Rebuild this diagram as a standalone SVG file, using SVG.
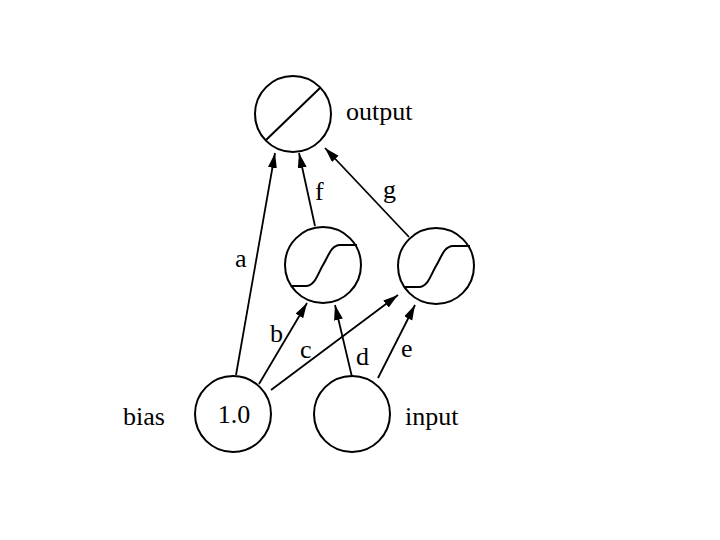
<svg xmlns="http://www.w3.org/2000/svg" width="720" height="540" viewBox="0 0 720 540">
<style>
.n{fill:none;stroke:#000;stroke-width:2}
.e{fill:none;stroke:#000;stroke-width:1.8;marker-end:url(#ah)}
text{font-family:"Liberation Serif","Times New Roman",serif;font-size:26px;fill:#000}
</style>
<defs>
<marker id="ah" markerUnits="userSpaceOnUse" markerWidth="16" markerHeight="10" refX="15" refY="4.5" orient="auto">
<path d="M0,0 L15,4.5 L0,9 z" fill="#000"/>
</marker>
<path id="sig" d="M-31,21 H-17 C-8,21 -5,8 0,0 S8,-20 17,-20 H34"/>
</defs>
<rect width="720" height="540" fill="#fff"/>
<g id="connectors">
<line class="e" x1="236" y1="375" x2="275" y2="153"/>
<line class="e" x1="315" y1="226" x2="299" y2="153"/>
<line class="e" x1="409" y1="237" x2="325" y2="148"/>
<line class="e" x1="259" y1="384" x2="307" y2="303"/>
<line class="e" x1="271" y1="390" x2="398" y2="295"/>
<line class="e" x1="352" y1="377" x2="335" y2="305"/>
<line class="e" x1="378" y1="378" x2="415" y2="305"/>
</g>
<g id="labels">
<text x="235" y="267">a</text>
<text x="270" y="342">b</text>
<text x="300" y="358">c</text>
<text x="356" y="365">d</text>
<text x="401" y="357">e</text>
<text x="315" y="200">f</text>
<text x="383" y="198">g</text>
</g>
<g id="output">
<circle class="n" cx="293" cy="114" r="38"/>
<line class="n" x1="266" y1="140" x2="320" y2="88"/>
<text x="346" y="120">output</text>
</g>
<g id="hidden1" transform="translate(323,265)">
<circle class="n" r="38"/>
<use href="#sig" class="n"/>
</g>
<g id="hidden2" transform="translate(436,266)">
<circle class="n" r="38"/>
<use href="#sig" class="n"/>
</g>
<g id="bias">
<circle class="n" cx="233" cy="414" r="38"/>
<text x="234" y="423" text-anchor="middle">1.0</text>
<text x="123" y="425">bias</text>
</g>
<g id="input">
<circle class="n" cx="352" cy="414" r="38"/>
<text x="405" y="425">input</text>
</g>
</svg>
